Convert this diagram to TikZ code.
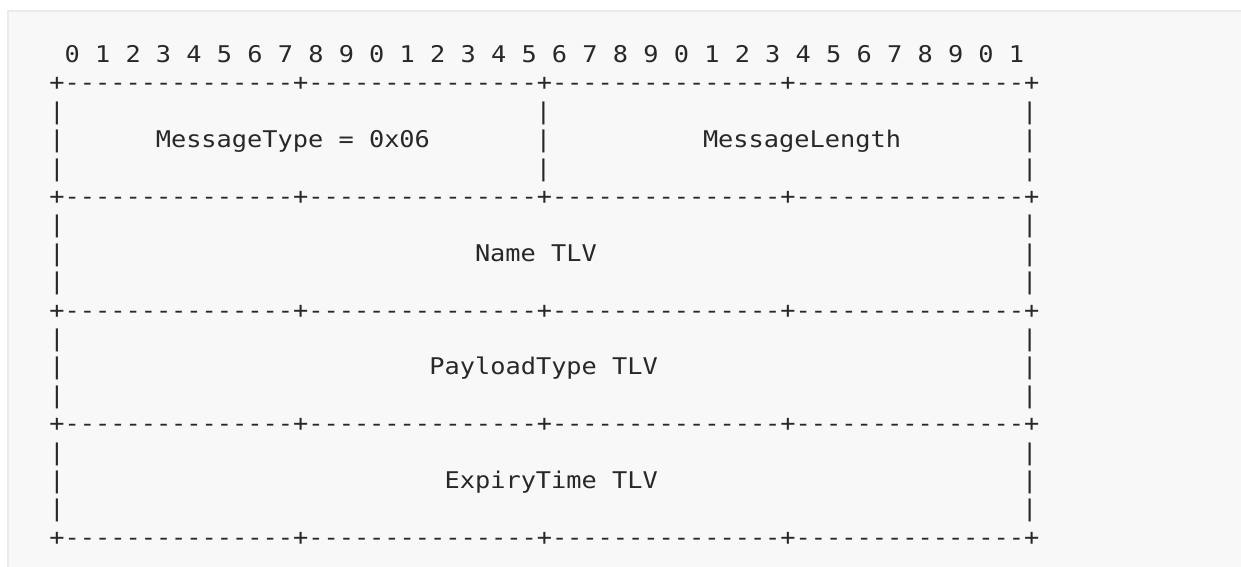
\documentclass[tikz,border=0pt]{standalone}
\usepackage{fontspec}
\setmonofont[FakeStretch=1.1]{DejaVu Sans Mono}
\definecolor{ink}{HTML}{282828}
\definecolor{panel}{HTML}{F8F8F8}
\definecolor{rim}{HTML}{EBEBEB}
\newcommand{\cx}[1]{\fpeval{49.4+15.2*(#1)}pt}
\newcommand{\ry}[1]{\fpeval{-(62.5+28.4*(#1))}pt}
\begin{document}
\begin{tikzpicture}[
  txt/.style={anchor=base west, inner sep=0pt, outer sep=0pt, text=ink,
    font=\ttfamily\fontsize{23}{28}\selectfont}
]
\useasboundingbox (0pt,0pt) rectangle (1241pt,-567pt);
\fill[white] (0pt,0pt) rectangle (1241pt,-567pt);
\fill[panel] (7pt,-10pt) rectangle (1241pt,-567pt);
\draw[rim, line width=2pt] (8pt,-567pt) -- (8pt,-11pt) -- (1241pt,-11pt);
% bit numbers
\node[txt] (bits) at (\cx{1},\ry{0}) {0 1 2 3 4 5 6 7 8 9 0 1 2 3 4 5 6 7 8 9 0 1 2 3 4 5 6 7 8 9 0 1};
% borders
\foreach \r in {1,5,9,13,17}
  \node[txt] (border-\r) at (\cx{0},\ry{\r}) {+---------------+---------------+---------------+---------------+};
% side bars
\foreach \r in {2,3,4,6,7,8,10,11,12,14,15,16} {
  \node[txt] (barL-\r) at (\cx{0},\ry{\r}) {|};
  \node[txt] (barR-\r) at (\cx{64},\ry{\r}) {|};
}
\foreach \r in {2,3,4}
  \node[txt] (barM-\r) at (\cx{32},\ry{\r}) {|};
% labels
\node[txt] (mtype) at (\cx{7},\ry{3}) {MessageType = 0x06};
\node[txt] (mlen) at (\cx{43},\ry{3}) {MessageLength};
\node[txt] (name) at (\cx{28},\ry{7}) {Name TLV};
\node[txt] (ptype) at (\cx{25},\ry{11}) {PayloadType TLV};
\node[txt] (expiry) at (\cx{26},\ry{15}) {ExpiryTime TLV};
\end{tikzpicture}
\end{document}
